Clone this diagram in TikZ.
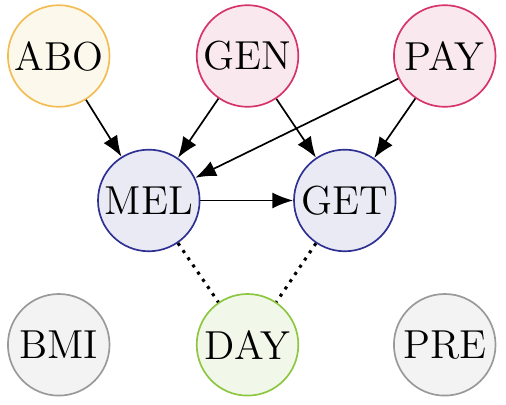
\documentclass[tikz,border=0pt]{standalone}
\usepackage{tikz}
\usetikzlibrary{arrows.meta,positioning}
\definecolor{aboline}{RGB}{242, 190, 84}
\definecolor{abofill}{RGB}{252, 248, 236}
\definecolor{redline}{RGB}{214, 51, 108}
\definecolor{redfill}{RGB}{250, 232, 239}
\definecolor{blueline}{RGB}{46, 49, 146}
\definecolor{bluefill}{RGB}{233, 234, 244}
\definecolor{grayline}{RGB}{153, 153, 153}
\definecolor{grayfill}{RGB}{243, 243, 243}
\definecolor{greenline}{RGB}{141, 198, 63}
\definecolor{greenfill}{RGB}{241, 248, 234}

\begin{document}
\begin{tikzpicture}[
    var/.style={circle, draw, semithick, minimum size=1.27cm, inner sep=0pt, font=\Large},
    source/.style={var, draw=aboline, fill=abofill},
    cause/.style={var, draw=redline, fill=redfill},
    target/.style={var, draw=blueline, fill=bluefill},
    other/.style={var, draw=grayline, fill=grayfill},
    latent/.style={var, draw=greenline, fill=greenfill},
    arrow/.style={-{Latex[length=2.6mm, width=2mm]}, semithick},
    assoc/.style={dotted, line width=1.1pt}
]
\useasboundingbox (0,0) rectangle (6.325,5.05);

% Top row
\node[source] (abo) at (0.734,4.35) {ABO};
\node[cause] (gen) at (3.094,4.35) {GEN};
\node[cause] (pay) at (5.559,4.35) {PAY};

% Middle row
\node[target] (mel) at (1.86,2.544) {MEL};
\node[target] (get) at (4.31,2.544) {GET};

% Bottom row
\node[other] (bmi) at (0.734,0.74) {BMI};
\node[latent] (day) at (3.094,0.74) {DAY};
\node[other] (pre) at (5.559,0.74) {PRE};

% Arrows
\draw[arrow] (abo) -- (mel);
\draw[arrow] (gen) -- (mel);
\draw[arrow] (gen) -- (get);
\draw[arrow] (pay) -- (mel);
\draw[arrow] (pay) -- (get);
\draw[arrow] (mel) -- (get);

% Associations
\draw[assoc] (mel) -- (day);
\draw[assoc] (get) -- (day);

\end{tikzpicture}
\end{document}
